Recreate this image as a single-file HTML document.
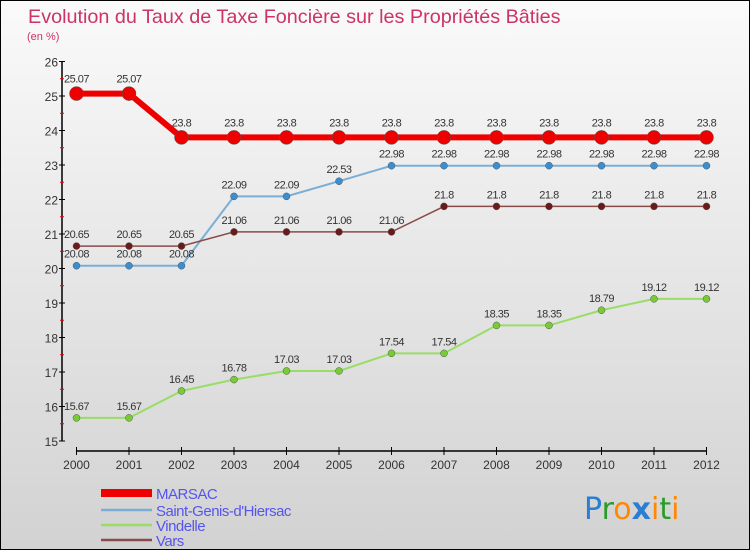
<!DOCTYPE html>
<html><head><meta charset="utf-8"><style>
body{margin:0}
#c{position:relative;width:748px;height:548px;border:1px solid #000;background:linear-gradient(#fafafa,#d2d2d2);font-family:"Liberation Sans",sans-serif;overflow:hidden}
</style></head><body>
<div id="c">
<svg id="s" width="748" height="548" xmlns="http://www.w3.org/2000/svg">
<text x="27" y="22" font-size="19.8" fill="#cc3366">Evolution du Taux de Taxe Foncière sur les Propriétés Bâties</text>
<text x="26" y="39" font-size="11" fill="#cc3366">(en %)</text>
<g id="axes"></g><g id="series"></g><g id="legend"></g>
<text x="583" y="518" font-size="30" font-family="DejaVu Sans,sans-serif"><tspan fill="#2a7fd4">P</tspan><tspan fill="#2a9a2a">r</tspan><tspan fill="#ff8800">o</tspan><tspan fill="#2a7fd4" font-weight="bold">x</tspan><tspan fill="#ff8800">i</tspan><tspan fill="#2a9a2a">t</tspan><tspan fill="#ff8800">i</tspan></text>
</svg></div>
<script>
const years=[2000,2001,2002,2003,2004,2005,2006,2007,2008,2009,2010,2011,2012];
const marsac=[25.07,25.07,23.8,23.8,23.8,23.8,23.8,23.8,23.8,23.8,23.8,23.8,23.8];
const stgenis=[20.08,20.08,20.08,22.09,22.09,22.53,22.98,22.98,22.98,22.98,22.98,22.98,22.98];
const vindelle=[15.67,15.67,16.45,16.78,17.03,17.03,17.54,17.54,18.35,18.35,18.79,19.12,19.12];
const vars=[20.65,20.65,20.65,21.06,21.06,21.06,21.06,21.8,21.8,21.8,21.8,21.8,21.8];
const yTicks=[15,16,17,18,19,20,21,22,23,24,25,26];
const NS="http://www.w3.org/2000/svg";
const X=i=>75.5+i*52.5, Y=v=>440-(v-15)*34.5;
function mk(t,a,p){const e=document.createElementNS(NS,t);for(const k in a)e.setAttribute(k,a[k]);p.appendChild(e);return e;}
const ax=document.getElementById('axes');
let yl=mk('line',{x1:61,y1:Y(26),x2:61,y2:Y(15),stroke:'#000','stroke-width':1.5},ax);

yTicks.forEach(v=>{
 mk('line',{x1:58,y1:Y(v),x2:64,y2:Y(v),stroke:'#000'},ax);
 if(v<26)mk('line',{x1:59,y1:Y(v+0.5),x2:63,y2:Y(v+0.5),stroke:'#e00'},ax);
 const t=mk('text',{x:57,y:Y(v)+5,'font-size':12,'text-anchor':'end',fill:'#333'},ax);t.textContent=v;
 
});
let xl=mk('line',{x1:X(0),y1:450,x2:X(12),y2:450,stroke:'#000','stroke-width':1.5},ax);

years.forEach((y,i)=>{
 mk('line',{x1:X(i),y1:446,x2:X(i),y2:454,stroke:'#000'},ax);
 const t=mk('text',{x:X(i),y:468,'font-size':12,'text-anchor':'middle',fill:'#333'},ax);t.textContent=y;
 
});
const sg=document.getElementById('series');
const series=[
 {n:'vindelle',d:vindelle,c:'#99dd66',f:'#77cc33',w:2,r:3.5},
 {n:'saint-genis',d:stgenis,c:'#7aaed6',f:'#3a8fd0',w:2,r:3.5},
 {n:'vars',d:vars,c:'#8b4a4a',f:'#6a1a1a',w:1.5,r:3.5},
 {n:'marsac',d:marsac,c:'#ee0000',f:'#ee0000',w:6,r:7}];
series.forEach(s=>{
 const g=mk('g',{},sg);
 mk('polyline',{points:s.d.map((v,i)=>X(i)+','+Y(v)).join(' '),fill:'none',stroke:s.c,'stroke-width':s.w},g);
 s.d.forEach((v,i)=>{
  const c=mk('circle',{cx:X(i),cy:Y(v),r:s.r,fill:s.f,stroke:'#555','stroke-width':0.5},g);
  
  const t=mk('text',{x:X(i),y:Y(v)-(s.n=='marsac'?11:8),'font-size':11,'text-anchor':'middle',fill:'#333','letter-spacing':'-0.5'},g);
  t.textContent=v;
 });
});
const lg=document.getElementById('legend');
[['MARSAC','#ee0000',8,492],['Saint-Genis-d\'Hiersac','#7aaed6',2.5,509],['Vindelle','#99dd66',2.5,524],['Vars','#8b4a4a',2.5,539]].forEach(e=>{
 const g=mk('g',{},lg);
 mk('line',{x1:100,y1:e[3],x2:151,y2:e[3],stroke:e[1],'stroke-width':e[2]},g);
 const t=mk('text',{x:155,y:e[3]+6,'font-size':15,fill:'#5555ee','letter-spacing':'-0.5'},g);t.textContent=e[0];
});
</script></body></html>
